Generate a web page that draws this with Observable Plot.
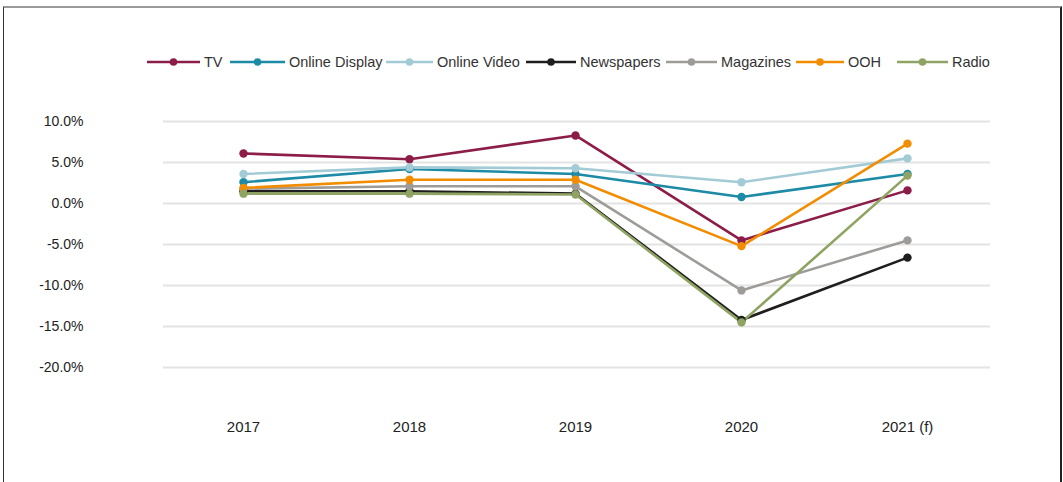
<!DOCTYPE html>
<html>
<head>
<meta charset="utf-8">
<script src="https://cdn.jsdelivr.net/npm/d3@7"></script>
<script src="https://cdn.jsdelivr.net/npm/@observablehq/plot@0.6"></script>
<style>
  body { margin: 0; background: #fff; font-family: "Liberation Sans", Arial, sans-serif; }
  #frame { position: absolute; left: 3px; top: 6px; width: 1056px; height: 520px;
           border-top: 2px solid #9a9a9a; border-left: 1px solid #333; border-right: 2px solid #222; }
  #chart { position: absolute; left: 0; top: 0; }
  #legend { position: absolute; left: 0; top: 0; width: 1063px; height: 80px; }
  .item { position: absolute; top: 53px; display: flex; align-items: center; height: 18px;
          font-size: 14.5px; color: #333; white-space: nowrap; }
  .item svg { display: block; }
  .item span { margin-left: 4px; }
</style>
</head>
<body>
<div id="frame"></div>
<div id="chart"></div>
<div id="legend"></div>
<script>
const years = ["2017", "2018", "2019", "2020", "2021 (f)"];
const seriesNames = ["TV", "Online Display", "Online Video", "Newspapers", "Magazines", "OOH", "Radio"];
const seriesColors = ["#8c1d48", "#1d8aa6", "#a3cbd6", "#1e1e1e", "#9e9c99", "#f28c00", "#8fa463"];
const tv = [6.1, 5.4, 8.3, -4.5, 1.6];
const onlineDisplay = [2.6, 4.2, 3.6, 0.8, 3.6];
const onlineVideo = [3.6, 4.4, 4.3, 2.6, 5.5];
const newspapers = [1.5, 1.5, 1.2, -14.2, -6.6];
const magazines = [1.8, 2.1, 2.1, -10.6, -4.5];
const ooh = [1.9, 2.9, 2.9, -5.2, 7.3];
const radio = [1.2, 1.2, 1.1, -14.5, 3.4];
const yTicks = [10, 5, 0, -5, -10, -15, -20];

const valuesBySeries = [tv, onlineDisplay, onlineVideo, newspapers, magazines, ooh, radio];
const data = [];
seriesNames.forEach((name, i) => {
  valuesBySeries[i].forEach((v, j) => data.push({series: name, year: years[j], value: v}));
});

const chart = Plot.plot({
  width: 1063,
  height: 482,
  marginLeft: 163,
  marginRight: 73,
  marginTop: 121,
  marginBottom: 115,
  style: {fontFamily: "'Liberation Sans', Arial, sans-serif", background: "transparent", color: "#222"},
  x: {type: "point", domain: years, range: [243, 907], padding: 0},
  y: {domain: [-20, 10]},
  color: {domain: seriesNames, range: seriesColors},
  marks: [
    Plot.gridY(yTicks, {stroke: "#e3e3e3", strokeOpacity: 1, strokeWidth: 2}),
    Plot.axisY(yTicks, {tickSize: 0, tickPadding: 80, tickFormat: d => d.toFixed(1) + "%", fontSize: 14, label: null}),
    Plot.axisX({tickSize: 0, tickPadding: 54, fontSize: 15, label: null}),
    ...seriesNames.map(name => Plot.line(data.filter(d => d.series === name),
      {x: "year", y: "value", stroke: seriesColors[seriesNames.indexOf(name)], strokeWidth: 2.6})),
    ...seriesNames.map(name => Plot.dot(data.filter(d => d.series === name),
      {x: "year", y: "value", fill: seriesColors[seriesNames.indexOf(name)], r: 4.2}))
  ]
});
document.getElementById("chart").appendChild(chart);

// legend
const legendSwatchX = [147, 230, 386, 526, 666, 796, 897];
const legendSwatchW = [53, 55, 47, 50, 51, 48, 51];
const legend = document.getElementById("legend");
seriesNames.forEach((name, i) => {
  const item = document.createElement("div");
  item.className = "item";
  item.style.left = legendSwatchX[i] + "px";
  const w = legendSwatchW[i];
  item.innerHTML = `<svg width="${w}" height="12"><line x1="0" x2="${w}" y1="6" y2="6" stroke="${seriesColors[i]}" stroke-width="2.6"/><circle cx="${w/2}" cy="6" r="3.8" fill="${seriesColors[i]}"/></svg><span>${name}</span>`;
  legend.appendChild(item);
});
</script>
</body>
</html>
